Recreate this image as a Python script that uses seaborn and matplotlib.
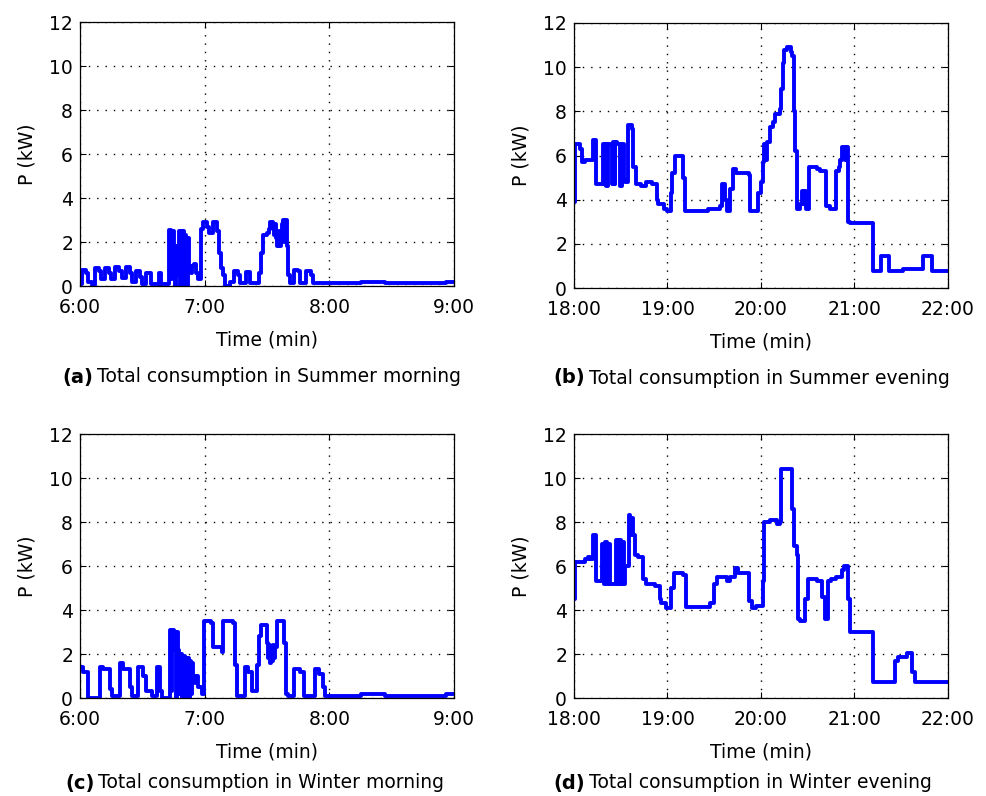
import matplotlib
matplotlib.use("Agg")
import matplotlib.pyplot as plt
import seaborn as sns
import pandas as pd

# ---------------- data: (minute offset from start, power kW), drawn as steps ----------------
summer_morning = [
    (0, 0.1), (1, 0.75), (3, 0.6), (4, 0.2), (6, 0.05), (7, 0.8), (9, 0.7), (10, 0.3),
    (12, 0.8), (14, 0.6), (15, 0.3), (17, 0.85), (19, 0.7), (20, 0.35), (22, 0.85), (24, 0.6),
    (25, 0.2), (27, 0.7), (29, 0.4), (30, 0.1), (32, 0.6), (34, 0.1), (38, 0.6), (39, 0.1),
    (43, 2.55), (44, 0.3), (44.5, 2.5), (45, 1.8), (45.5, 0.0), (46, 1.8), (46.5, 0.5),
    (47, 1.8), (47.5, 2.5), (48, 0.0), (48.5, 2.5), (49, 1.0), (49.5, 2.5), (50, 0.0),
    (50.5, 2.3), (51, 1.5), (51.5, 0.0), (52, 2.2), (52.5, 0.9), (53.5, 0.6), (54, 0.9),
    (55, 1.0), (56, 0.6), (57, 0.3), (58, 2.6), (59, 2.9), (61, 2.7), (62, 2.4), (64, 2.9),
    (66, 2.5), (67, 1.5), (68, 0.8), (69, 0.5), (70, 0.0), (72, 0.2), (74, 0.7), (76, 0.5),
    (77, 0.15), (80, 0.65), (82, 0.15), (86, 0.6), (87, 1.5), (88, 2.3), (90, 2.4),
    (91, 2.6), (91.5, 2.9), (93, 2.6), (93.5, 2.3), (94, 2.8), (94.5, 2.2), (95, 1.8),
    (95.5, 2.5), (96, 1.8), (96.5, 2.3), (97, 2.8), (97.5, 3.0), (98, 2.0), (98.5, 3.0),
    (99.5, 1.8), (100, 0.5), (101, 0.15), (103, 0.75), (105, 0.7), (106, 0.15), (109, 0.7),
    (111, 0.5), (112, 0.15), (135, 0.2), (147, 0.12), (176, 0.2), (180, 0.2)]

summer_evening = [
    (0, 3.9), (0.6, 6.5), (4, 6.3), (5, 5.7), (7, 5.8), (12, 6.7), (14, 4.7), (18.5, 6.5),
    (19.5, 4.7), (20, 6.5), (20.5, 4.6), (22, 6.5), (24.5, 4.7), (25, 6.6), (26, 4.7),
    (26.5, 6.6), (27.5, 6.5), (29.5, 4.6), (31, 6.5), (32, 4.9), (32.7, 4.8), (34.5, 7.4),
    (37, 7.2), (38, 5.5), (40, 4.7), (43, 4.6), (46, 4.8), (50, 4.7), (53, 4.0), (54, 3.8),
    (58, 3.6), (60, 3.5), (62, 4.3), (63, 5.2), (65, 6.0), (70, 5.0), (71, 3.5), (86, 3.6),
    (94, 3.7), (95, 4.7), (97, 4.0), (98, 3.5), (100, 4.5), (102, 5.4), (104, 5.2),
    (112, 5.1), (113, 3.5), (118, 4.3), (120, 4.8), (121, 5.7), (122, 6.5), (123, 5.8),
    (124, 6.6), (126, 7.3), (128, 7.5), (129, 7.9), (132, 8.1), (133, 9.0), (134, 10.2),
    (135, 10.8), (137, 10.9), (139, 10.7), (140, 10.5), (141, 8.0), (142, 6.2), (143, 3.6),
    (145, 3.8), (146, 4.4), (147, 3.8), (148, 4.4), (149, 3.6), (151, 5.5), (156, 5.4),
    (158, 5.3), (162, 3.7), (164, 3.6), (168, 5.3), (170, 5.5), (171, 5.8), (172, 6.4),
    (174, 5.8), (175, 6.4), (176, 3.0), (177, 2.95), (192, 0.75), (197, 1.45), (202, 0.75),
    (211, 0.85), (224, 1.45), (230, 0.75), (240, 0.75)]

winter_morning = [
    (0, 1.4), (1.6, 1.2), (4, 0.0), (9.6, 1.4), (11, 1.3), (14.4, 0.4), (15.2, 0.1),
    (19.2, 1.6), (20.5, 1.3), (24, 0.5), (24.9, 0.1), (28, 1.4), (30.5, 1.0), (32, 0.3),
    (34.5, 0.1), (36.9, 1.4), (38.5, 0.3), (39.3, 0.0), (43.3, 3.1), (44, 0.3), (44.5, 3.1),
    (45, 2.2), (45.5, 3.0), (46, 0.0), (46.5, 3.0), (47, 2.2), (47.5, 0.2), (48, 1.8),
    (48.5, 2.0), (49, 0.0), (49.5, 1.8), (50, 1.9), (50.5, 0.0), (51, 1.8), (51.5, 0.3),
    (52, 1.8), (52.5, 0.0), (53, 1.7), (53.5, 0.2), (54, 1.6), (54.5, 1.0), (55.5, 0.7),
    (56, 1.0), (57, 0.5), (58.5, 0.2), (59.5, 3.5), (63, 3.4), (64, 2.3), (68.5, 2.1),
    (69, 3.5), (73.5, 3.4), (74.5, 1.5), (75.5, 0.1), (79.4, 1.4), (81, 1.2), (83, 0.3),
    (85, 1.5), (86, 2.8), (87, 3.3), (89.8, 2.5), (90.5, 1.8), (91, 2.4), (91.5, 1.6),
    (92, 2.3), (92.5, 1.7), (93, 2.4), (93.5, 1.8), (94, 2.3), (95, 3.5), (98, 2.5),
    (99, 0.2), (100, 0.1), (103, 1.3), (106, 1.2), (108, 0.1), (113, 1.3), (115, 1.1),
    (117, 0.5), (118, 0.1), (135, 0.2), (147, 0.1), (176, 0.2), (180, 0.2)]

winter_evening = [
    (0, 4.5), (0.5, 6.2), (7, 6.3), (9, 6.4), (10, 6.3), (12, 7.4), (14, 5.3), (18, 7.0),
    (19, 5.2), (20, 7.1), (21, 5.2), (22, 7.0), (23, 5.2), (27, 7.2), (28, 5.2), (29, 7.2),
    (30, 5.2), (31, 7.1), (32, 5.2), (33, 6.0), (35, 8.3), (36, 7.4), (37, 8.2), (38, 7.4),
    (39, 6.5), (41, 6.4), (44, 5.4), (46, 5.2), (52, 5.1), (55, 4.5), (56, 4.3), (59, 4.1),
    (62, 5.0), (64, 5.7), (70, 5.6), (72, 4.15), (87, 4.3), (90, 5.2), (92, 5.5), (95, 5.5),
    (98, 5.3), (100, 5.5), (103, 5.9), (105, 5.7), (112, 4.4), (114, 4.1), (117, 4.2),
    (121, 5.3), (122, 8.0), (126, 8.1), (130, 7.9), (132, 8.0), (133, 10.4), (140, 8.6),
    (141, 6.9), (143, 6.5), (144, 3.6), (145, 3.5), (148, 4.5), (150, 5.4), (156, 5.3),
    (159, 4.6), (161, 3.6), (163, 5.3), (165, 5.4), (168, 5.5), (172, 5.8), (173, 6.0),
    (175, 6.0), (176, 4.5), (177, 3.0), (192, 0.75), (206, 1.7), (208, 1.85), (213.5, 2.05),
    (216.7, 1.2), (218.8, 0.75), (240, 0.75)]

morning_ticks = ["6:00", "7:00", "8:00", "9:00"]
evening_ticks = ["18:00", "19:00", "20:00", "21:00", "22:00"]
y_ticks = [0, 2, 4, 6, 8, 10, 12]

letters = ["(a)", "(b)", "(c)", "(d)"]
captions = ["Total consumption in Summer morning",
            "Total consumption in Summer evening",
            "Total consumption in Winter morning",
            "Total consumption in Winter evening"]

# ---------------- figure ----------------
sns.set_theme(style="white")
plt.rcParams["font.family"] = ["DejaVu Sans"]

W, H = 987, 796
fig = plt.figure(figsize=(W / 100, H / 100), dpi=100)
fig.patch.set_facecolor("white")

# axes boxes in pixels: left, top, right, bottom
boxes = [(80, 22, 454, 286), (574, 23, 948, 288),
         (80, 434, 454, 698), (574, 434, 948, 698)]
series = [(summer_morning, morning_ticks), (summer_evening, evening_ticks),
          (winter_morning, morning_ticks), (winter_evening, evening_ticks)]
cap_pos = [(62, 377), (553, 378), (65, 783), (553, 783)]

FS = 13.5
renderer = fig.canvas.get_renderer()

for i, (box, (pairs, xt)) in enumerate(zip(boxes, series)):
    l, tp, r, b = box
    ax = fig.add_axes([l / W, 1 - b / H, (r - l) / W, (b - tp) / H])
    df = pd.DataFrame(pairs, columns=["t", "p"])
    sns.lineplot(data=df, x="t", y="p", ax=ax, color="#0000ff", linewidth=2.8,
                 drawstyle="steps-post", estimator=None, sort=False)
    xmax = 60 * (len(xt) - 1)
    ax.set_xlim(0, xmax)
    ax.set_ylim(0, 12)
    ax.set_xticks([60 * k for k in range(len(xt))])
    ax.set_xticklabels(xt)
    ax.set_yticks(y_ticks)
    ax.set_yticklabels([str(v) for v in y_ticks])
    ax.grid(True, color="black", linestyle=(0, (1, 5)), linewidth=1.0)
    ax.tick_params(direction="in", length=4, width=0.8, colors="black",
                   labelsize=FS, top=True, right=True, bottom=True, left=True, pad=5)
    ax.tick_params(axis="x", pad=8.5)
    for s in ax.spines.values():
        s.set_color("black")
        s.set_linewidth(0.9)
        s.set_visible(True)
    ax.set_xlabel("Time (min)", fontsize=FS, color="black", labelpad=9.5)
    ax.set_ylabel("P (kW)", fontsize=FS, color="black", labelpad=9)

    # caption: bold letter + normal text
    cx, cy = cap_pos[i]
    tl = fig.text(cx / W, 1 - cy / H, letters[i], fontsize=FS + 0.5, fontweight="bold",
                  ha="left", va="center", color="black")
    bb = tl.get_window_extent(renderer=renderer)
    fig.text((bb.x1 + 4) / W, 1 - cy / H, captions[i], fontsize=FS, ha="left",
             va="center", color="black")

fig.savefig("out.png", dpi=100, facecolor="white")
